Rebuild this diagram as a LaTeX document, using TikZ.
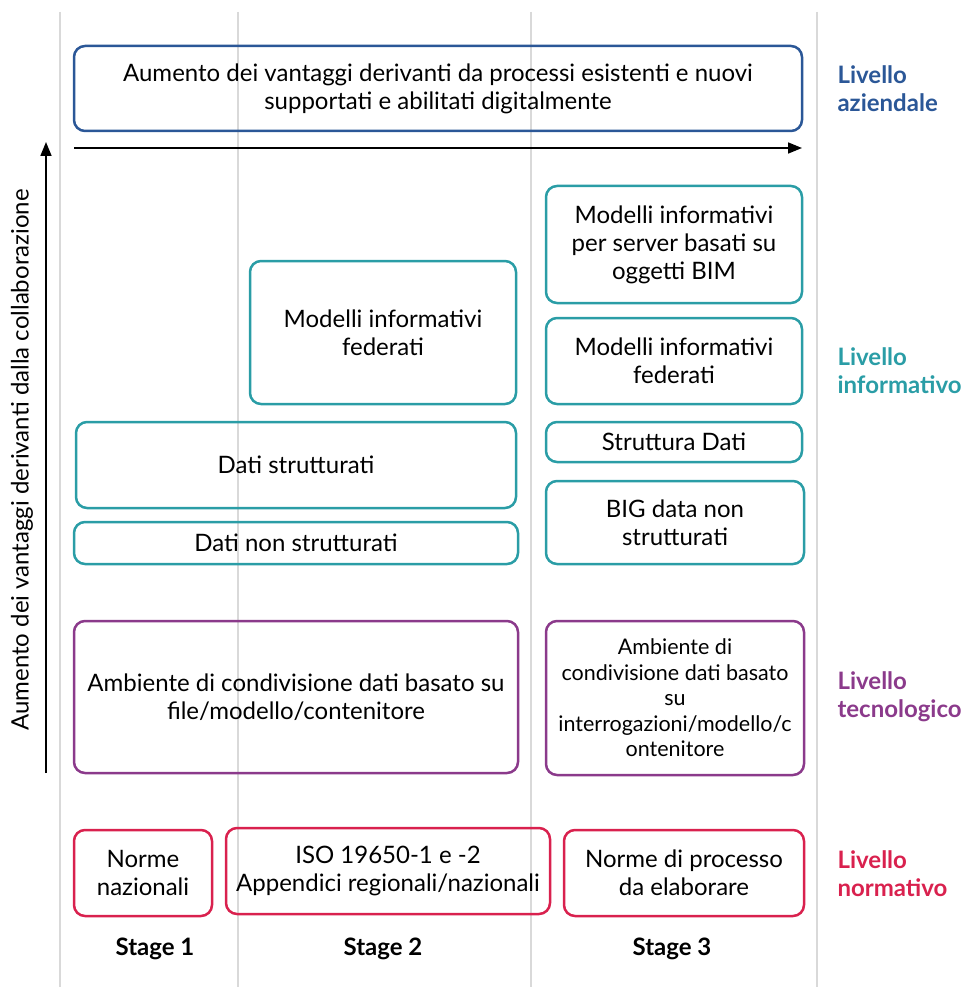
\documentclass[tikz,border=0pt]{standalone}
\usepackage{fontspec}
\setmainfont{Lato}
\usetikzlibrary{arrows.meta}
\definecolor{lvblue}{HTML}{2B5797}
\definecolor{lvteal}{HTML}{2A9DA6}
\definecolor{lvpurple}{HTML}{8B3A8B}
\definecolor{lvred}{HTML}{D9214E}
\definecolor{lanegray}{HTML}{D9D9D9}
\tikzset{
  box/.style={draw, line width=2.5pt, rounded corners=11pt, align=center,
    font=\fontsize{24}{28}\selectfont, inner sep=2pt},
  bluebox/.style={box, draw=lvblue},
  tealbox/.style={box, draw=lvteal},
  purplebox/.style={box, draw=lvpurple},
  redbox/.style={box, draw=lvred},
  lane/.style={draw=lanegray, line width=2.6pt},
  levellabel/.style={anchor=west, align=left, font=\bfseries\fontsize{24}{28}\selectfont},
  stagelabel/.style={font=\bfseries\fontsize{24}{28}\selectfont},
  axis/.style={draw=black, line width=1.7pt, -{Triangle[length=14pt,width=11pt]}}
}
\begin{document}
\begin{tikzpicture}[x=1pt,y=-1pt]
\useasboundingbox (0,0) rectangle (965,987);
% stage lanes
\foreach \lx/\ln in {60/l0,238/l1,531/l2,817/l3}{
  \coordinate (\ln top) at (\lx,12);
  \coordinate (\ln bot) at (\lx,987);
  \path[lane] (\ln top) -- (\ln bot);
}
% business level
\node[bluebox, minimum width=728pt, minimum height=85pt] (top) at (438,88.5)
  {Aumento dei vantaggi derivanti da processi esistenti e nuovi\\supportati e abilitati digitalmente};
\coordinate (hs) at (74,148);
\coordinate (he) at (802,148);
\draw[axis] (hs) -- (he);
% vertical axis
\coordinate (vs) at (46,773);
\coordinate (ve) at (46,142);
\draw[axis] (vs) -- (ve);
\node[rotate=90, font=\fontsize{24}{28}\selectfont] (vlab) at (22,460)
  {Aumento dei vantaggi derivanti dalla collaborazione};
% information level
\node[tealbox, minimum width=266pt, minimum height=143pt] (fed2) at (383,332.5)
  {Modelli informativi\\federati};
\node[tealbox, minimum width=440pt, minimum height=86pt] (dstr) at (296,465)
  {Dati strutturati};
\node[tealbox, minimum width=444pt, minimum height=42pt] (dnon) at (296,543)
  {Dati non strutturati};
\node[tealbox, minimum width=256pt, minimum height=117pt] (bim) at (674,244.5)
  {Modelli informativi\\per server basati su\\oggetti BIM};
\node[tealbox, minimum width=256pt, minimum height=86pt] (fed3) at (674,361)
  {Modelli informativi\\federati};
\node[tealbox, minimum width=256pt, minimum height=40pt] (sdat) at (674,442)
  {Struttura Dati};
\node[tealbox, minimum width=258pt, minimum height=83pt] (big) at (675,522.5)
  {BIG data non\\strutturati};
% technology level
\node[purplebox, minimum width=444pt, minimum height=152pt] (amb1) at (296,697)
  {Ambiente di condivisione dati basato su\\file/modello/contenitore};
\node[purplebox, minimum width=258pt, minimum height=154pt,
  font=\fontsize{21.5}{25.5}\selectfont] (amb2) at (675,698)
  {Ambiente di\\condivisione dati basato\\su\\interrogazioni/modello/c\\ontenitore};
% normative level
\node[redbox, minimum width=138pt, minimum height=86pt] (norme) at (143,873)
  {Norme\\nazionali};
\node[redbox, minimum width=324pt, minimum height=86pt] (iso) at (388,871)
  {ISO 19650-1 e -2\\Appendici regionali/nazionali};
\node[redbox, minimum width=240pt, minimum height=86pt] (proc) at (684,873)
  {Norme di processo\\da elaborare};
% stage labels
\node[stagelabel] (s1) at (155,949) {Stage 1};
\node[stagelabel] (s2) at (383,949) {Stage 2};
\node[stagelabel] (s3) at (672,949) {Stage 3};
% level labels
\node[levellabel, text=lvblue] (lvb) at (834,88.5) {Livello\\aziendale};
\node[levellabel, text=lvteal] (lvt) at (834,370.5) {Livello\\informativo};
\node[levellabel, text=lvpurple] (lvp) at (834,697) {Livello\\tecnologico};
\node[levellabel, text=lvred] (lvr) at (834,873.5) {Livello\\normativo};
\end{tikzpicture}
\end{document}
